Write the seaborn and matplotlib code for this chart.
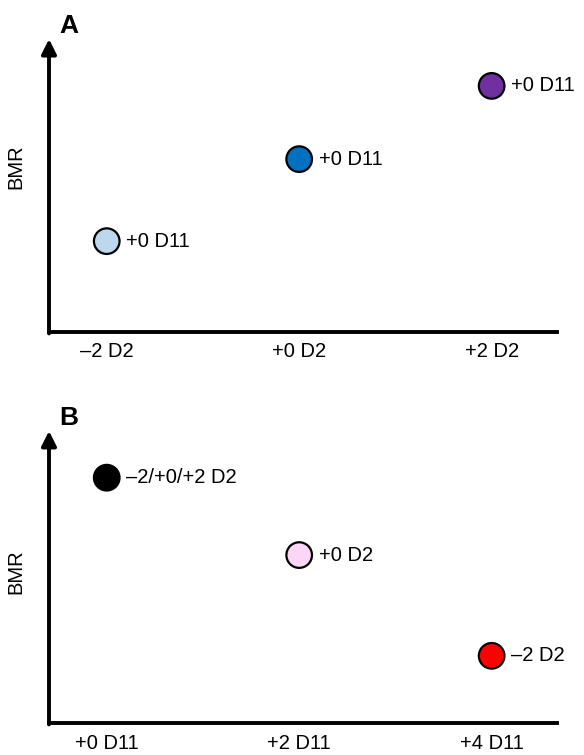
import pandas as pd
import seaborn as sns
import matplotlib.pyplot as plt

# panel A: BMR vs D2 dose (D11 fixed)
a_ticks = ['–2 D2', '+0 D2', '+2 D2']
a_bmr = [0.31, 0.59, 0.84]
a_notes = ['+0 D11', '+0 D11', '+0 D11']
a_colors = ['#bdd7ee', '#0070c0', '#7030a0']

# panel B: BMR vs D11 dose
b_ticks = ['+0 D11', '+2 D11', '+4 D11']
b_bmr = [0.84, 0.575, 0.23]
b_notes = ['–2/+0/+2 D2', '+0 D2', '–2 D2']
b_colors = ['#000000', '#fdd6f5', '#ff0000']

sns.set_style('white')
plt.rcParams['font.family'] = ['Liberation Sans', 'DejaVu Sans']
plt.rcParams['text.color'] = 'black'
plt.rcParams['axes.labelcolor'] = 'black'
plt.rcParams['xtick.color'] = 'black'

fig = plt.figure(figsize=(5.84, 7.55), dpi=100)
ax_a = fig.add_axes([0.0839, 0.5603, 0.870, 0.388])
ax_b = fig.add_axes([0.0839, 0.0424, 0.870, 0.3868])

panels = [
    (ax_a, a_ticks, a_bmr, a_notes, a_colors, 'A', 33, 7, 0.563),
    (ax_b, b_ticks, b_bmr, b_notes, b_colors, 'B', 425, 8, 0.517),
]

for ax, ticks, bmr, notes, colors, tag, tag_y, pad, ylab_y in panels:
    df = pd.DataFrame({'pos': range(len(ticks)), 'bmr': bmr, 'grp': ticks})
    sns.scatterplot(data=df, x='pos', y='bmr', hue='grp',
                    palette=dict(zip(ticks, colors)), s=340,
                    edgecolor='black', linewidth=1.6, legend=False,
                    ax=ax, zorder=3, clip_on=False)
    for i, txt in enumerate(notes):
        ax.annotate(txt, (i, bmr[i]), xytext=(14, 0), textcoords='offset points',
                    va='center', ha='left', fontsize=14.5)
    ax.set_xlim(-0.30, 2.34)
    ax.set_ylim(0, 1)
    ax.set_xticks(range(len(ticks)))
    ax.set_xticklabels(ticks, fontsize=14.5)
    ax.set_yticks([])
    ax.tick_params(axis='x', length=0, pad=pad)
    ax.set_xlabel('')
    ax.set_ylabel('BMR', fontsize=14.5)
    ax.yaxis.set_label_coords(-0.047, ylab_y)
    for side in ['top', 'right', 'left']:
        ax.spines[side].set_visible(False)
    ax.spines['bottom'].set_linewidth(2.8)
    ax.spines['bottom'].set_color('black')
    ax.spines['bottom'].set_capstyle('projecting')
    # y axis drawn as an arrow
    ax.annotate('', xy=(0, 1), xytext=(0, -0.005), xycoords='axes fraction',
                arrowprops=dict(arrowstyle='-|>', lw=2.8, color='black',
                                mutation_scale=22, shrinkA=0, shrinkB=0))
    fig.text(59 / 584, 1 - tag_y / 755, tag, fontsize=19, fontweight='bold',
             ha='left', va='baseline')

fig.savefig('out.png', dpi=100)
